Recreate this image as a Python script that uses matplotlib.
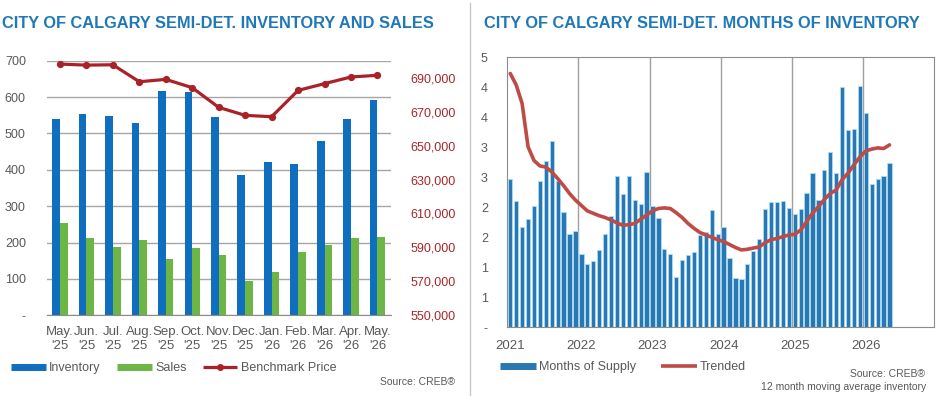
import matplotlib
matplotlib.use("Agg")
import matplotlib.pyplot as plt
from matplotlib.lines import Line2D

plt.rcParams['font.family'] = ['Liberation Sans', 'DejaVu Sans']

# ---------------- Left chart data ----------------
months = ["May.\n'25", "Jun.\n'25", "Jul.\n'25", "Aug.\n'25", "Sep.\n'25", "Oct.\n'25",
          "Nov.\n'25", "Dec.\n'25", "Jan.\n'26", "Feb.\n'26", "Mar.\n'26", "Apr.\n'26", "May.\n'26"]
inventory = [540, 554, 547, 530, 618, 613, 546, 385, 421, 416, 480, 539, 592]
sales = [255, 212, 187, 206, 155, 186, 165, 95, 118, 174, 194, 213, 216]
benchmark = [698000, 697400, 697600, 687600, 689000, 684100, 672500, 667800,
             667000, 682500, 686500, 690400, 691400]
left_yticks = [0, 100, 200, 300, 400, 500, 600, 700]
left_yticklabels = ['-', '100', '200', '300', '400', '500', '600', '700']
right_yticks = [550000, 570000, 590000, 610000, 630000, 650000, 670000, 690000]

# ---------------- Right chart data ----------------
supply = [2.47, 2.10, 1.67, 1.80, 2.03, 2.44, 2.78, 3.11, 2.44, 1.93, 1.56, 1.61,
          1.23, 1.06, 1.11, 1.29, 1.56, 1.86, 2.52, 2.23, 2.53, 2.12, 2.05, 2.59,
          2.03, 1.82, 1.31, 1.22, 0.84, 1.12, 1.21, 1.25, 1.54, 1.59, 1.95, 1.56,
          1.67, 1.16, 0.82, 0.81, 1.05, 1.28, 1.48, 1.98, 2.09, 2.09, 2.11, 1.99,
          1.89, 1.98, 2.24, 2.57, 2.12, 2.62, 2.93, 2.57, 4.00, 3.29, 3.31, 4.02,
          3.57, 2.39, 2.48, 2.52, 2.74]
trended = [4.23, 4.04, 3.73, 3.01, 2.78, 2.69, 2.67, 2.59, 2.48, 2.36, 2.23, 2.12,
           2.03, 1.94, 1.90, 1.86, 1.83, 1.79, 1.74, 1.70, 1.71, 1.73, 1.80, 1.87,
           1.94, 1.98, 1.99, 1.98, 1.91, 1.83, 1.73, 1.65, 1.58, 1.54, 1.50, 1.46,
           1.43, 1.38, 1.33, 1.29, 1.30, 1.32, 1.34, 1.41, 1.46, 1.48, 1.51, 1.54,
           1.55, 1.62, 1.76, 1.90, 2.01, 2.13, 2.23, 2.29, 2.46, 2.57, 2.71, 2.84,
           2.94, 2.97, 2.99, 2.98, 3.04]
years = ['2021', '2022', '2023', '2024', '2025', '2026']
mos_yticks = [0, 0.5, 1.0, 1.5, 2.0, 2.5, 3.0, 3.5, 4.0, 4.5]
mos_yticklabels = ['-', '1', '1', '2', '2', '3', '3', '4', '4', '5']

# ---------------- Styles ----------------
W, H = 943, 400
fig = plt.figure(figsize=(W / 100, H / 100), dpi=100)
GRAY = '#595959'
TITLE = '#1F78B8'
BLUE = '#0F6EBE'
GREEN = '#6DB646'
RED = '#AA2228'
RED_TXT = '#A3282D'
MOS = '#2A77B4'
TREND = '#BE4B46'


def ax_rect(l, t, r, b):
    return [l / W, 1 - b / H, (r - l) / W, (b - t) / H]


# ---------------- Left chart ----------------
ax = fig.add_axes(ax_rect(46.7, 60.7, 390.7, 315.3))
x = list(range(len(months)))
bw = 0.29
ax.bar([i - bw / 2 for i in x], inventory, width=bw, color=BLUE, zorder=2)
ax.bar([i + bw / 2 for i in x], sales, width=bw, color=GREEN, zorder=2)
ax.set_xlim(-0.5, len(months) - 0.5)
ax.set_ylim(0, 700)
ax.set_yticks(left_yticks)
ax.set_yticklabels(left_yticklabels)
ax.set_xticks(x)
ax.set_xticklabels(months, linespacing=1.15)
ax.yaxis.grid(True, color='#A6A6A6', lw=1, zorder=0)
ax.set_axisbelow(True)
for s in ['top', 'left', 'right']:
    ax.spines[s].set_visible(False)
ax.spines['bottom'].set_color('#8C8C8C')
ax.tick_params(axis='both', length=0, labelsize=9, labelcolor=GRAY)
ax.tick_params(axis='x', labelsize=9.5)
ax.tick_params(axis='y', pad=15)
ax.tick_params(axis='x', pad=8)

ax2 = ax.twinx()
ax2.plot(x, benchmark, color=RED, lw=2.3, marker='o', ms=4.2, zorder=3)
ax2.set_ylim(550000, 700000)
ax2.set_yticks(right_yticks)
ax2.set_yticklabels([f'{v:,}' for v in right_yticks])
for s in ['top', 'left', 'right', 'bottom']:
    ax2.spines[s].set_visible(False)
ax2.tick_params(axis='y', length=0, labelsize=9, labelcolor=RED_TXT, pad=14)

handles = [Line2D([], [], color=BLUE, lw=5, solid_capstyle='butt'),
           Line2D([], [], color=GREEN, lw=5, solid_capstyle='butt'),
           Line2D([], [], color=RED, lw=2.3, marker='o', ms=4, solid_capstyle='butt')]
fig.legend(handles, ['Inventory', 'Sales', 'Benchmark Price'], ncol=3,
           loc='center left', bbox_to_anchor=(0 / W, 1 - 368 / H), frameon=False,
           fontsize=9, handlelength=2.75, handletextpad=0.3, columnspacing=1.3,
           labelcolor=GRAY)
fig.text(455 / W, 1 - 382 / H, 'Source: CREB®', ha='right', va='center',
         fontsize=7.5, color=GRAY)
fig.text(2 / W, 1 - 23 / H, 'CITY OF CALGARY SEMI-DET. INVENTORY AND SALES',
         ha='left', va='center', fontsize=11.75, fontweight='bold', color=TITLE)

# ---------------- Right chart ----------------
bx = fig.add_axes(ax_rect(507.3, 57.3, 934, 327.3))
mx = [i + 0.5 for i in range(len(supply))]
bx.bar(mx, supply, width=0.72, color=MOS, edgecolor='#A9DDF3', lw=0.6, zorder=2)
bx.plot(mx, trended, color=TREND, lw=2.6, zorder=3, solid_capstyle='round')
bx.set_xlim(0, 72)
bx.set_ylim(0, 4.5)
bx.set_yticks(mos_yticks)
bx.set_yticklabels(mos_yticklabels)
bx.set_xticks([12 * k + 0.5 for k in range(len(years))])
bx.set_xticklabels(years)
for k in range(1, len(years)):
    bx.axvline(12 * k, color='#A0A0A0', lw=1, zorder=1)
for s in bx.spines.values():
    s.set_color('#8C8C8C')
bx.tick_params(axis='both', length=0, labelsize=9, labelcolor=GRAY)
bx.tick_params(axis='x', labelsize=9.5)
bx.tick_params(axis='y', pad=14)
bx.tick_params(axis='x', pad=9)

handles_r = [Line2D([], [], color=MOS, lw=5, solid_capstyle='butt'),
             Line2D([], [], color=TREND, lw=2.6, solid_capstyle='butt')]
fig.legend(handles_r, ['Months of Supply', 'Trended'], ncol=2,
           loc='center left', bbox_to_anchor=(489 / W, 1 - 367 / H), frameon=False,
           fontsize=9, handlelength=2.85, handletextpad=0.25, columnspacing=2.0,
           labelcolor=GRAY)
fig.text(925 / W, 1 - 374 / H, 'Source: CREB®', ha='right', va='center',
         fontsize=7.5, color=GRAY)
fig.text(926 / W, 1 - 386.5 / H, '12 month moving average inventory', ha='right',
         va='center', fontsize=7.5, color=GRAY)
fig.text(484 / W, 1 - 23 / H, 'CITY OF CALGARY SEMI-DET. MONTHS OF INVENTORY',
         ha='left', va='center', fontsize=11.75, fontweight='bold', color=TITLE)

# separator
fig.add_artist(Line2D([469.5 / W, 469.5 / W], [1 - 395 / H, 1 - 3 / H],
                      color='#C8C8C8', lw=1))

fig.savefig('out.png', dpi=100)
